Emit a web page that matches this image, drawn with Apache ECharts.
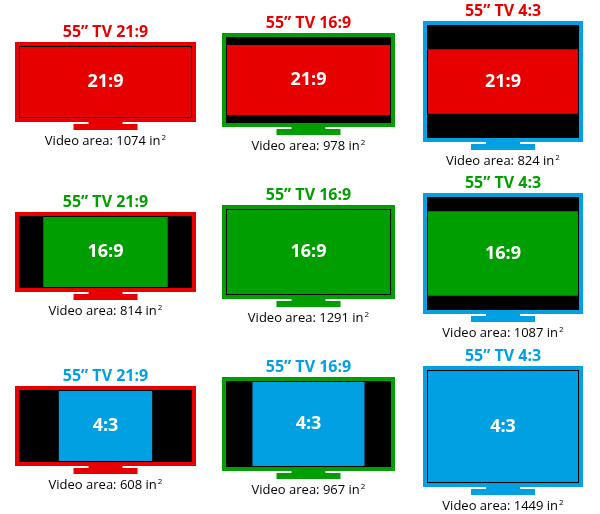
<!DOCTYPE html>
<html><head><meta charset="utf-8">
<script src="https://cdn.jsdelivr.net/npm/echarts@6/dist/echarts.min.js"></script>
<style>html,body{margin:0;padding:0;background:#fff}#c{width:600px;height:514px}</style>
</head><body><div id="c"></div>
<script>
// Data
const tvFormats = ['21:9', '16:9', '4:3'];          // columns: TV shape
const contentFormats = ['21:9', '16:9', '4:3'];     // rows: video content
const videoAreas = [                                 // [row][col] in square inches
  [1074, 978, 824],
  [814, 1291, 1087],
  [608, 967, 1449]
];
const formatColors = { '21:9': '#e60000', '16:9': '#009e00', '4:3': '#00a0e3' };
const ratioOf = s => { const p = s.split(':'); return +p[0] / +p[1]; };

// Layout (pixel-ish coordinates on a hidden 600x514 value grid)
const colX = [[15, 196], [222, 395], [423, 583]];
const colTop = [[42, 212, 386], [33, 205, 377], [21, 193, 366]];
const colH = [80, 94, 121];

const items = [];
for (let r = 0; r < 3; r++) for (let c = 0; c < 3; c++) items.push([c, r, videoAreas[r][c]]);

function renderItem(params, api) {
  const c = api.value(0), r = api.value(1), area = api.value(2);
  const tv = tvFormats[c], content = contentFormats[r];
  const frameCol = formatColors[tv], contCol = formatColors[content];
  const p0 = api.coord([colX[c][0], colTop[c][r]]);
  const p1 = api.coord([colX[c][1], colTop[c][r] + colH[c]]);
  const x0 = p0[0], y0 = p0[1], w = p1[0] - p0[0], h = p1[1] - p0[1];
  const cx = x0 + w / 2;
  const ch = [];
  ch.push({ type: 'rect', shape: { x: cx - 17, y: y0 + h - 1, width: 34, height: 4 }, style: { fill: frameCol } });
  ch.push({ type: 'rect', shape: { x: cx - 32, y: y0 + h + 2, width: 64, height: 6 }, style: { fill: frameCol } });
  ch.push({ type: 'rect', shape: { x: x0, y: y0, width: w, height: h }, style: { fill: frameCol } });
  const sx = x0 + 4, sy = y0 + 4, sw = w - 8, sh = h - 8;
  ch.push({ type: 'rect', shape: { x: sx, y: sy, width: sw, height: sh }, style: { fill: '#000' } });
  const ix = sx + 1, iy = sy + 1, iw = sw - 2, ih = sh - 2;
  let cw = iw, chh = ih;
  if (tv !== content) {
    const rc = ratioOf(content);
    if (rc > iw / ih) { cw = iw; chh = iw / rc; } else { chh = ih; cw = ih * rc; }
  }
  ch.push({ type: 'rect', shape: { x: cx - cw / 2, y: iy + (ih - chh) / 2, width: cw, height: chh }, style: { fill: contCol } });
  ch.push({ type: 'rect', shape: { x: sx + 0.5, y: sy + 0.5, width: sw - 1, height: sh - 1 }, style: { fill: null, stroke: 'rgba(0,0,0,0.75)', lineWidth: 1 } });
  ch.push({ type: 'text', x: cx, y: y0 + h / 2, style: { text: content, fill: '#fff', font: 'bold 18px "Open Sans", sans-serif', align: 'center', verticalAlign: 'middle' } });
  ch.push({ type: 'text', x: cx, y: y0 - 10, style: { text: '55\u201D TV ' + tv, fill: contCol, font: 'bold 16px "Open Sans", sans-serif', align: 'center', verticalAlign: 'middle' } });
  ch.push({ type: 'text', x: cx, y: y0 + h + 19, style: {
    text: '{a|Video area: ' + area + ' in}{s|2}', align: 'center', verticalAlign: 'middle',
    rich: { a: { fontSize: 13, fontFamily: '"Open Sans", sans-serif', color: '#222' },
            s: { fontSize: 8, fontFamily: '"Open Sans", sans-serif', color: '#222', verticalAlign: 'top', padding: [0, 0, 6, 1] } } } });
  return { type: 'group', children: ch };
}

const chart = echarts.init(document.getElementById('c'));
chart.setOption({
  animation: false,
  grid: { left: 0, right: 0, top: 0, bottom: 0 },
  xAxis: { type: 'value', min: 0, max: 600, show: false },
  yAxis: { type: 'value', min: 0, max: 514, inverse: true, show: false },
  series: [{ type: 'custom', renderItem, data: items, encode: { x: 0, y: 1 }, clip: false }]
});
</script></body></html>
